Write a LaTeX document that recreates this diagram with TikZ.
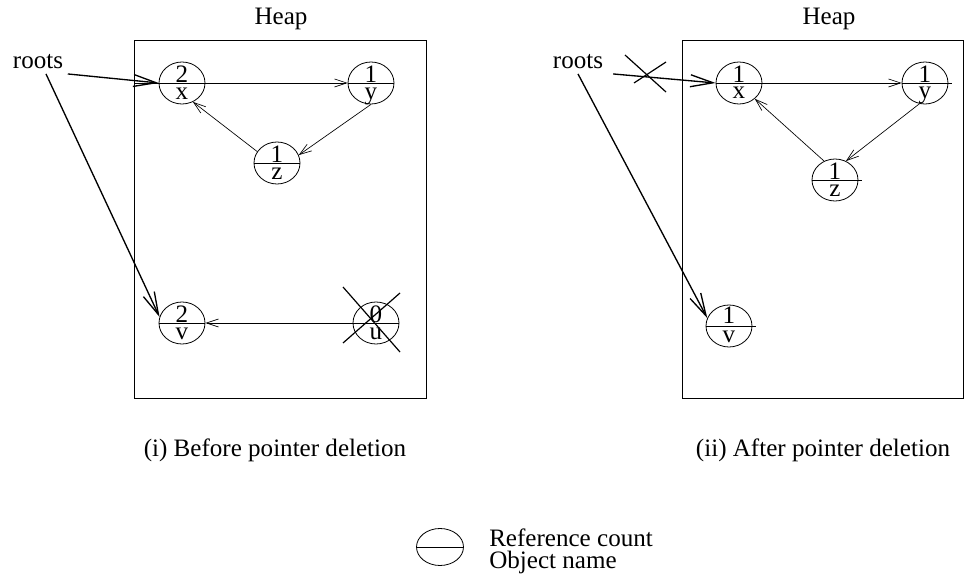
\documentclass[tikz,border=0pt]{standalone}
\usepackage{fontspec}
\setmainfont{Liberation Serif}
\usetikzlibrary{arrows.meta,shapes.geometric}

\tikzset{
  obj/.style={ellipse, draw, line width=0.6pt,
              minimum width=34.5pt, minimum height=31.5pt, inner sep=0pt},
  cnt/.style={anchor=base, inner sep=0pt},
  heapbox/.style={draw, line width=0.6pt, inner sep=0pt},
  ptr/.style={->, line width=0.5pt, >={Straight Barb[length=9pt,width=6pt]}},
  rootptr/.style={->, line width=1pt, >={Straight Barb[length=17pt,width=9pt]}},
  crossline/.style={line width=0.9pt},
  keytext/.style={anchor=base west, inner sep=0pt}
}

\begin{document}
\begin{tikzpicture}[x=0.75pt,y=-0.75pt,font=\fontsize{18.8}{22}\selectfont]
\useasboundingbox (0,0) rectangle (964,584);

    % (i) before
    \node[heapbox, minimum width=219pt, minimum height=268.5pt] (heapA) at (280,219) {};
    \node[anchor=base] (heapAlbl) at (281,25) {Heap};
    \node[anchor=base] (rootsA) at (38,69) {roots};

    \node[obj] (xA) at (182,83) {};
    \draw (134,83) -- (xA.east);
    \node[cnt] at (182,83) {2};
    \node[cnt] at (182,100) {x};

    \node[obj] (yA) at (371,83) {};
    \draw (yA.west) -- (yA.east);
    \node[cnt] at (371,83) {1};
    \node[cnt] at (371,100) {y};

    \node[obj] (zA) at (277,163) {};
    \draw (zA.west) -- (zA.east);
    \node[cnt] at (277,163) {1};
    \node[cnt] at (277,180) {z};

    \node[obj] (vA) at (182,323) {};
    \draw (vA.west) -- (vA.east);
    \node[cnt] at (182,323) {2};
    \node[cnt] at (182,340) {v};

    \node[obj] (uA) at (376,323) {};
    \draw (uA.west) -- (uA.east);
    \node[cnt] at (376,323) {0};
    \node[cnt] at (376,340) {u};
    \draw[crossline] ([shift={(-33,-36)}]uA.center) -- ([shift={(24,29)}]uA.center);
    \draw[crossline] ([shift={(-33,20)}]uA.center) -- ([shift={(24,-30)}]uA.center);

    \draw[ptr] (xA.east) -- (yA.west);
    \draw[ptr] (yA.south) -- (zA.20);
    \draw[ptr] (zA.150) -- (xA.-60);
    \draw[ptr] (uA.west) -- (vA.east);
    \draw[rootptr] (rootsA.south east) -- (xA.west);
    \draw[rootptr] ([xshift=6]rootsA.south) -- (vA.165);

    \node[anchor=base] (capA) at (275,456) {(i) Before pointer deletion};

    % (ii) after
    \node[heapbox, minimum width=210.75pt, minimum height=268.5pt] (heapB) at (822.5,219) {};
    \node[anchor=base] (heapBlbl) at (829,25) {Heap};
    \node[anchor=base] (rootsB) at (578,69) {roots};

    \node[obj] (xB) at (739,83) {};
    \draw (xB.west) -- (xB.east);
    \node[cnt] at (739,83) {1};
    \node[cnt] at (739,99) {x};

    \node[obj] (yB) at (925,83) {};
    \draw (yB.west) -- ([xshift=3]yB.east);
    \node[cnt] at (925,83) {1};
    \node[cnt] at (925,99) {y};

    \node[obj] (zB) at (835,180) {};
    \draw (zB.west) -- ([xshift=3]zB.east);
    \node[cnt] at (835,180) {1};
    \node[cnt] at (835,197) {z};

    \node[obj] (vB) at (729,326) {};
    \draw (vB.west) -- ([xshift=3]vB.east);
    \node[cnt] at (729,324) {1};
    \node[cnt] at (729,343) {v};

    \draw[ptr] (xB.east) -- (yB.west);
    \draw[ptr] (yB.-105) -- (zB.60);
    \draw[ptr] (zB.120) -- (xB.-45);
    \draw[rootptr] ([xshift=4]rootsB.south east) -- (xB.west);
    \draw[rootptr] (rootsB.south) -- (vB.160);
    \draw[crossline] (625,55) -- (666,92);
    \draw[crossline] (634,83) -- (666,62);

    \node[anchor=base] (capB) at (823,456) {(ii) After pointer deletion};

    % key
    \node[obj, minimum width=35.25pt, minimum height=27.75pt] (key) at (440,547) {};
    \draw (key.west) -- (key.east);
    \node[keytext] (keycnt) at (489,546) {Reference count};
    \node[keytext] (keyname) at (489,568) {Object name};

\end{tikzpicture}
\end{document}
